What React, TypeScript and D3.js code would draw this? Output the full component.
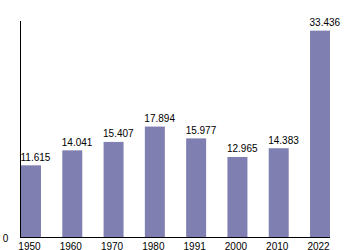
import React from "react";
import * as d3 from "d3";

const years = ["1950", "1960", "1970", "1980", "1991", "2000", "2010", "2022"];
const values = [11.615, 14.041, 15.407, 17.894, 15.977, 12.965, 14.383, 33.436];
const valueLabels = ["11.615", "14.041", "15.407", "17.894", "15.977", "12.965", "14.383", "33.436"];
const yDomain = [0, 35];

export default function App() {
  const width = 350;
  const height = 250;
  const x = d3.scaleBand<string>().domain(years).range([21, 330]).paddingInner(0.516).paddingOuter(0);
  const y = d3.scaleLinear().domain(yDomain).range([237, 21]);
  const font = "'Liberation Sans', Arial, sans-serif";
  return (
    <svg width={width} height={height} style={{ position: "absolute", left: 0, top: 0 }} fontFamily={font}>
      <rect width={width} height={height} fill="#fff" />
      {years.map((yr, i) => (
        <g key={yr}>
          <rect x={x(yr)} y={y(values[i])} width={x.bandwidth()} height={y(0) - y(values[i])} fill="#7f7fb1" />
          <text x={(x(yr) as number) - 0.5} y={y(values[i]) - 4.5} textAnchor="start" fontSize={10} fill="#000">
            {valueLabels[i]}
          </text>
          <text x={(x(yr) as number) + x.bandwidth() / 2 - 1.5} y={249.5} textAnchor="middle" fontSize={10} fill="#000">
            {yr}
          </text>
        </g>
      ))}
      <line x1={20.5} x2={20.5} y1={y(yDomain[1])} y2={y(0) + 0.5} stroke="#000" strokeWidth={1} />
      <line x1={20} x2={330} y1={y(0) + 0.5} y2={y(0) + 0.5} stroke="#000" strokeWidth={1} />
      <text x={5.5} y={242} textAnchor="middle" fontSize={10} fill="#000">0</text>
    </svg>
  );
}
